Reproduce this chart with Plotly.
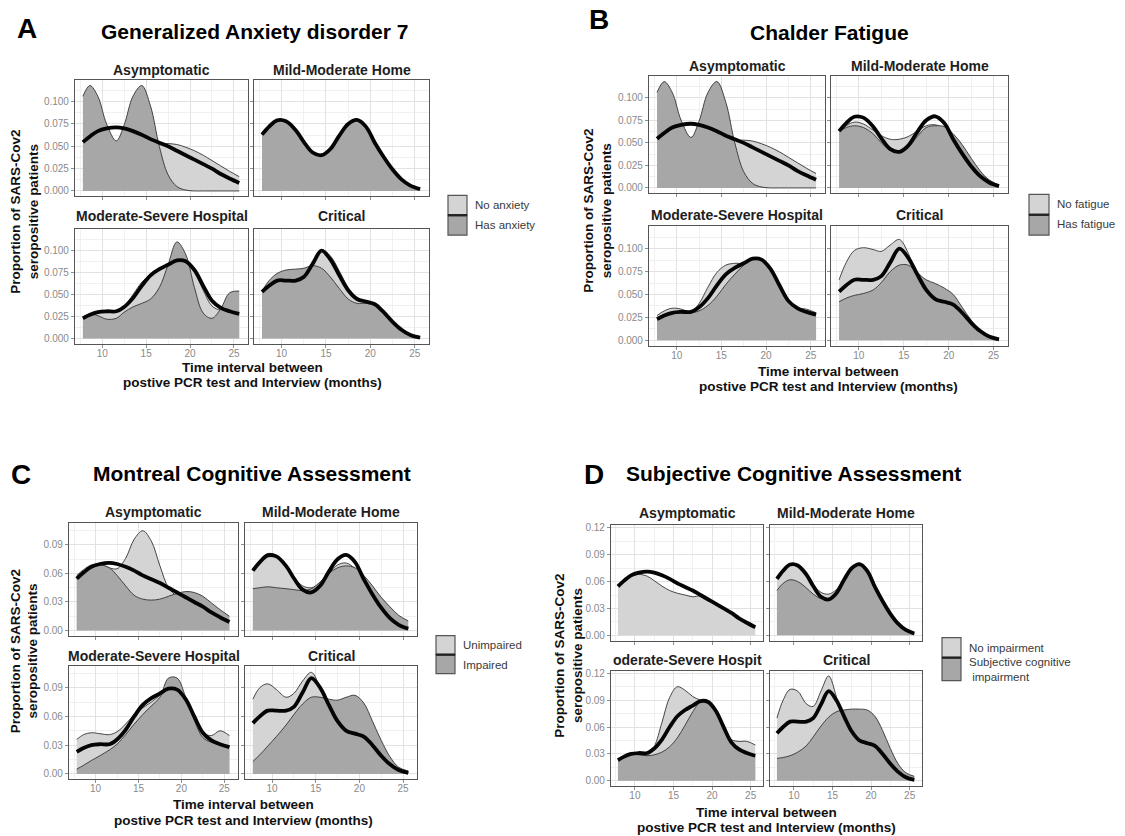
import plotly.graph_objects as go

W, H = 1125, 836
FONT = "Liberation Sans, Arial, sans-serif"
LIGHT_FILL = "#d4d4d4"
DARK_FILL = "#a7a7a7"

# ---- data -----------------------------------------------------------------
MONTHS = [7.8, 8.6, 9.5, 10.5, 11.6, 12.5, 13.5, 14.5, 15.5, 16.5,
          17.5, 18.5, 19.5, 20.5, 21.5, 22.5, 23.5, 24.5, 25.6]
SEVERITY = ["Asymptomatic", "Mild-Moderate Home", "Moderate-Severe Hospital", "Critical"]
X_TICKS = [10, 15, 20, 25]

# overall density of each severity group (thick black line)
ALL_ASYM = [0.0546, 0.061, 0.067, 0.070, 0.0712, 0.070, 0.067, 0.063, 0.058, 0.054,
            0.050, 0.045, 0.040, 0.035, 0.030, 0.025, 0.019, 0.014, 0.009]
ALL_MILD = [0.063, 0.072, 0.079, 0.078, 0.068, 0.055, 0.043, 0.040, 0.047, 0.062,
            0.075, 0.0795, 0.072, 0.054, 0.038, 0.024, 0.013, 0.006, 0.002]
ALL_MODSEV = [0.023, 0.027, 0.030, 0.031, 0.031, 0.036, 0.046, 0.060, 0.072, 0.079,
              0.084, 0.089, 0.088, 0.078, 0.060, 0.043, 0.035, 0.031, 0.028]
ALL_CRIT = [0.053, 0.060, 0.066, 0.066, 0.066, 0.070, 0.085, 0.100, 0.090, 0.072,
            0.055, 0.045, 0.042, 0.039, 0.030, 0.019, 0.010, 0.004, 0.001]

# A: Generalized Anxiety disorder 7
GAD_ASYM_NO = [0.045, 0.048, 0.050, 0.051, 0.052, 0.052, 0.052, 0.052, 0.053, 0.053,
               0.053, 0.052, 0.049, 0.045, 0.040, 0.034, 0.028, 0.022, 0.016]
GAD_ASYM_YES = [0.106, 0.118, 0.106, 0.075, 0.056, 0.074, 0.106, 0.118, 0.095, 0.050,
                0.018, 0.005, 0.001, 0.0, 0.0, 0.0, 0.0, 0.0, 0.0]
GAD_MILD_YES = [0.063, 0.072, 0.079, 0.078, 0.068, 0.055, 0.043, 0.040, 0.047, 0.062,
                0.075, 0.0795, 0.072, 0.054, 0.038, 0.024, 0.013, 0.006, 0.002]
GAD_MODSEV_NO = [0.025, 0.028, 0.030, 0.030, 0.031, 0.037, 0.050, 0.064, 0.073, 0.078,
                 0.083, 0.088, 0.087, 0.076, 0.055, 0.037, 0.032, 0.030, 0.027]
GAD_MODSEV_YES = [0.024, 0.028, 0.026, 0.022, 0.023, 0.030, 0.036, 0.040, 0.045, 0.058,
                  0.084, 0.110, 0.096, 0.058, 0.029, 0.023, 0.034, 0.052, 0.054]
GAD_CRIT_NO = [0.053, 0.060, 0.065, 0.065, 0.066, 0.071, 0.087, 0.101, 0.094, 0.077,
               0.058, 0.046, 0.042, 0.039, 0.030, 0.019, 0.010, 0.004, 0.001]
GAD_CRIT_YES = [0.054, 0.066, 0.074, 0.078, 0.079, 0.080, 0.083, 0.080, 0.070, 0.057,
                0.045, 0.040, 0.040, 0.038, 0.030, 0.019, 0.010, 0.004, 0.001]

# B: Chalder Fatigue
CFQ_ASYM_NO = [0.045, 0.048, 0.050, 0.051, 0.052, 0.052, 0.052, 0.052, 0.053, 0.053,
               0.053, 0.052, 0.049, 0.045, 0.040, 0.034, 0.028, 0.022, 0.016]
CFQ_ASYM_YES = [0.106, 0.118, 0.106, 0.075, 0.056, 0.074, 0.106, 0.118, 0.095, 0.050,
                0.018, 0.005, 0.001, 0.0, 0.0, 0.0, 0.0, 0.0, 0.0]
CFQ_MILD_NO = [0.063, 0.069, 0.073, 0.071, 0.064, 0.058, 0.054, 0.054, 0.057, 0.063,
               0.069, 0.070, 0.066, 0.056, 0.043, 0.030, 0.018, 0.009, 0.003]
CFQ_MILD_YES = [0.063, 0.067, 0.069, 0.067, 0.060, 0.050, 0.042, 0.040, 0.045, 0.057,
                0.067, 0.069, 0.068, 0.060, 0.048, 0.033, 0.019, 0.008, 0.002]
CFQ_MODSEV_NO = [0.027, 0.032, 0.035, 0.034, 0.031, 0.040, 0.058, 0.074, 0.082, 0.084,
                 0.084, 0.088, 0.086, 0.075, 0.057, 0.040, 0.035, 0.034, 0.030]
CFQ_MODSEV_YES = [0.022, 0.026, 0.029, 0.030, 0.030, 0.032, 0.038, 0.048, 0.061, 0.072,
                  0.082, 0.089, 0.089, 0.079, 0.061, 0.043, 0.034, 0.032, 0.029]
CFQ_CRIT_NO = [0.066, 0.085, 0.098, 0.101, 0.099, 0.097, 0.104, 0.110, 0.095, 0.068,
               0.048, 0.040, 0.036, 0.030, 0.022, 0.012, 0.005, 0.0015, 0.0]
CFQ_CRIT_YES = [0.042, 0.046, 0.049, 0.051, 0.055, 0.063, 0.075, 0.082, 0.082, 0.074,
                0.066, 0.062, 0.057, 0.050, 0.036, 0.022, 0.011, 0.005, 0.002]

# C: Montreal Cognitive Assessment
MOCA_ASYM_NO = [0.058, 0.064, 0.069, 0.070, 0.066, 0.065, 0.076, 0.096, 0.105, 0.094,
                0.068, 0.045, 0.036, 0.032, 0.028, 0.024, 0.019, 0.014, 0.010]
MOCA_ASYM_YES = [0.055, 0.061, 0.066, 0.069, 0.066, 0.058, 0.047, 0.037, 0.033, 0.032,
                 0.033, 0.036, 0.039, 0.041, 0.040, 0.036, 0.029, 0.022, 0.015]
MOCA_MILD_NO = [0.063, 0.074, 0.081, 0.079, 0.068, 0.056, 0.047, 0.045, 0.050, 0.060,
                0.069, 0.071, 0.065, 0.052, 0.037, 0.023, 0.013, 0.006, 0.002]
MOCA_MILD_YES = [0.044, 0.045, 0.046, 0.045, 0.044, 0.043, 0.042, 0.044, 0.051, 0.060,
                 0.066, 0.068, 0.066, 0.058, 0.047, 0.035, 0.025, 0.016, 0.010]
MOCA_MODSEV_NO = [0.036, 0.041, 0.043, 0.042, 0.041, 0.044, 0.052, 0.062, 0.069, 0.075,
                  0.082, 0.088, 0.086, 0.074, 0.057, 0.043, 0.040, 0.045, 0.040]
MOCA_MODSEV_YES = [0.005, 0.009, 0.014, 0.019, 0.025, 0.031, 0.041, 0.052, 0.062, 0.071,
                   0.080, 0.100, 0.100, 0.080, 0.056, 0.038, 0.033, 0.031, 0.029]
MOCA_CRIT_NO = [0.078, 0.090, 0.094, 0.088, 0.080, 0.084, 0.097, 0.106, 0.090, 0.068,
                0.052, 0.045, 0.043, 0.038, 0.028, 0.017, 0.008, 0.003, 0.001]
MOCA_CRIT_YES = [0.013, 0.020, 0.029, 0.039, 0.051, 0.062, 0.073, 0.080, 0.080, 0.078,
                 0.077, 0.080, 0.082, 0.074, 0.055, 0.035, 0.018, 0.007, 0.003]

# D: Subjective Cognitive Assessment
SCA_ASYM_NO = [0.056, 0.062, 0.066, 0.068, 0.066, 0.061, 0.055, 0.050, 0.047, 0.045,
               0.043, 0.044, 0.040, 0.035, 0.030, 0.025, 0.019, 0.014, 0.009]
SCA_MILD_NO = [0.063, 0.073, 0.079, 0.078, 0.068, 0.057, 0.048, 0.046, 0.051, 0.063,
               0.074, 0.078, 0.071, 0.054, 0.037, 0.023, 0.012, 0.006, 0.002]
SCA_MILD_YES = [0.050, 0.058, 0.062, 0.060, 0.053, 0.046, 0.041, 0.040, 0.047, 0.062,
                0.075, 0.0795, 0.072, 0.055, 0.038, 0.023, 0.013, 0.006, 0.002]
SCA_MODSEV_NO = [0.022, 0.028, 0.031, 0.030, 0.028, 0.038, 0.065, 0.093, 0.105, 0.101,
                 0.094, 0.090, 0.087, 0.076, 0.058, 0.046, 0.044, 0.044, 0.040]
SCA_MODSEV_YES = [0.022, 0.027, 0.030, 0.029, 0.028, 0.029, 0.032, 0.038, 0.048, 0.062,
                  0.077, 0.088, 0.087, 0.076, 0.058, 0.042, 0.034, 0.030, 0.027]
SCA_CRIT_NO = [0.070, 0.090, 0.102, 0.100, 0.086, 0.083, 0.100, 0.117, 0.094, 0.065,
               0.048, 0.043, 0.041, 0.037, 0.028, 0.017, 0.008, 0.003, 0.0]
SCA_CRIT_YES = [0.025, 0.026, 0.028, 0.032, 0.039, 0.049, 0.061, 0.071, 0.077, 0.079,
                0.080, 0.080, 0.079, 0.072, 0.056, 0.036, 0.019, 0.009, 0.005]

OVERALL = [ALL_ASYM, ALL_MILD, ALL_MODSEV, ALL_CRIT]

GAD_Y_TICKS = [0.0, 0.025, 0.05, 0.075, 0.1]
GAD_Y_LABELS = ["0.000", "0.025", "0.050", "0.075", "0.100"]
MOCA_Y_TICKS = [0.0, 0.03, 0.06, 0.09]
MOCA_Y_LABELS = ["0.00", "0.03", "0.06", "0.09"]
SCA_Y_TICKS = [0.0, 0.03, 0.06, 0.09, 0.12]
SCA_Y_LABELS = ["0.00", "0.03", "0.06", "0.09", "0.12"]

# ---- panel specifications (geometry in page pixels) -------------------------
PANELS = [
    dict(letter="A", title="Generalized Anxiety disorder 7",
         letter_xy=(27, 26), title_xy=(254, 29),
         cols=[(75, 248), (254, 429)], rows=[(77, 194), (227, 342)],
         strip_y=[67, 214], strip_labels=SEVERITY,
         yrange=[-0.006, 0.1245], yticks=GAD_Y_TICKS, ylabels=GAD_Y_LABELS,
         groups=[(GAD_ASYM_NO, GAD_ASYM_YES), (None, GAD_MILD_YES),
                 (GAD_MODSEV_NO, GAD_MODSEV_YES), (GAD_CRIT_NO, GAD_CRIT_YES)],
         ytitle_x=25, xtitle_y=(366, 381),
         legend_box=(448, 467, 193, 233), legend_labels=["No anxiety", "Has anxiety"],
         legend_label_y=[203, 223]),
    dict(letter="B", title="Chalder Fatigue",
         letter_xy=(599, 17), title_xy=(829, 30),
         cols=[(649, 825), (831, 1008)], rows=[(73, 191), (224, 344)],
         strip_y=[63, 213], strip_labels=SEVERITY,
         yrange=[-0.006, 0.1245], yticks=GAD_Y_TICKS, ylabels=GAD_Y_LABELS,
         groups=[(CFQ_ASYM_NO, CFQ_ASYM_YES), (CFQ_MILD_NO, CFQ_MILD_YES),
                 (CFQ_MODSEV_NO, CFQ_MODSEV_YES), (CFQ_CRIT_NO, CFQ_CRIT_YES)],
         ytitle_x=598, xtitle_y=(370, 385),
         legend_box=(1029, 1049, 192, 233), legend_labels=["No fatigue", "Has fatigue"],
         legend_label_y=[202, 222]),
    dict(letter="C", title="Montreal Cognitive Assessment",
         letter_xy=(21, 473), title_xy=(252, 472),
         cols=[(69, 238), (245, 417)], rows=[(522, 635), (665, 779)],
         strip_y=[511, 655], strip_labels=SEVERITY,
         yrange=[-0.0055, 0.113], yticks=MOCA_Y_TICKS, ylabels=MOCA_Y_LABELS,
         groups=[(MOCA_ASYM_NO, MOCA_ASYM_YES), (MOCA_MILD_NO, MOCA_MILD_YES),
                 (MOCA_MODSEV_NO, MOCA_MODSEV_YES), (MOCA_CRIT_NO, MOCA_CRIT_YES)],
         ytitle_x=24, xtitle_y=(804, 820),
         legend_box=(436, 455, 635, 673), legend_labels=["Unimpaired", "Impaired"],
         legend_label_y=[644, 664]),
    dict(letter="D", title="Subjective Cognitive Assessment",
         letter_xy=(594, 473), title_xy=(794, 472),
         cols=[(611, 763), (770, 922)], rows=[(524, 640), (670, 786)],
         strip_y=[512, 659],
         strip_labels=["Asymptomatic", "Mild-Moderate Home", "oderate-Severe Hospit", "Critical"],
         yrange=[-0.006, 0.123], yticks=SCA_Y_TICKS, ylabels=SCA_Y_LABELS,
         groups=[(SCA_ASYM_NO, None), (SCA_MILD_NO, SCA_MILD_YES),
                 (SCA_MODSEV_NO, SCA_MODSEV_YES), (SCA_CRIT_NO, SCA_CRIT_YES)],
         ytitle_x=569, xtitle_y=(812, 827),
         legend_box=(942, 961, 637, 680),
         legend_labels=["No impairment", "Subjective cognitive<br> impairment"],
         legend_label_y=[647, 669]),
]


def fx(px):
    return px / W


def fy(py):
    return 1 - py / H


fig = go.Figure()
layout = dict(
    width=W, height=H, margin=dict(l=0, r=0, t=0, b=0),
    paper_bgcolor="white", plot_bgcolor="white", showlegend=False,
    font=dict(family=FONT, color="#222"),
)
annotations = []
shapes = []

axis_common = dict(
    showline=True, mirror=True, linecolor="#555555", linewidth=1.1,
    showgrid=True, gridcolor="#e2e2e2", gridwidth=0.7,
    zeroline=False, ticks="outside", ticklen=3, tickcolor="#8f8f8f",
    tickfont=dict(size=10, color="#8a8a8a", family=FONT),
    fixedrange=True,
)

idx = 0
for p in PANELS:
    for f in range(4):
        idx += 1
        r, c = divmod(f, 2)
        xname = "x" if idx == 1 else f"x{idx}"
        yname = "y" if idx == 1 else f"y{idx}"
        xkey = "xaxis" if idx == 1 else f"xaxis{idx}"
        ykey = "yaxis" if idx == 1 else f"yaxis{idx}"
        x0, x1 = p["cols"][c]
        y0, y1 = p["rows"][r]
        layout[xkey] = dict(
            axis_common, domain=[fx(x0), fx(x1)], anchor=yname,
            range=[6.9, 26.6], tickvals=X_TICKS, ticklabelstandoff=-3,
            ticktext=[str(v) for v in X_TICKS], showticklabels=(r == 1),
            minor=dict(tickvals=[7.5, 12.5, 17.5, 22.5], showgrid=True,
                       gridcolor="#f0f0f0", gridwidth=0.6, ticks=""),
        )
        ytv = p["yticks"]
        step = ytv[1] - ytv[0]
        layout[ykey] = dict(
            axis_common, domain=[fy(y1), fy(y0)], anchor=xname,
            range=p["yrange"], tickvals=ytv, ticktext=p["ylabels"],
            showticklabels=(c == 0),
            minor=dict(tickvals=[v + step / 2 for v in ytv], showgrid=True,
                       gridcolor="#f0f0f0", gridwidth=0.6, ticks=""),
        )
        light, dark = p["groups"][f]
        for series, fill in ((light, LIGHT_FILL), (dark, DARK_FILL)):
            if series is None:
                continue
            fig.add_trace(go.Scatter(
                x=MONTHS, y=series, mode="lines", xaxis=xname, yaxis=yname,
                line=dict(color="#333333", width=0.9, shape="spline", smoothing=1.0),
                fill="tozeroy", fillcolor=fill, hoverinfo="skip",
            ))
        fig.add_trace(go.Scatter(
            x=MONTHS, y=OVERALL[f], mode="lines", xaxis=xname, yaxis=yname,
            line=dict(color="#050505", width=3.8, shape="spline", smoothing=1.0),
            hoverinfo="skip",
        ))
        # facet strip label
        annotations.append(dict(
            x=fx((x0 + x1) / 2), y=fy(p["strip_y"][r]), xref="paper", yref="paper",
            text=f"<b>{p['strip_labels'][f]}</b>", showarrow=False,
            xanchor="center", yanchor="middle",
            font=dict(size=14, color="#1e1e1e", family=FONT),
        ))

    # panel letter and title
    annotations.append(dict(
        x=fx(p["letter_xy"][0]), y=fy(p["letter_xy"][1]), xref="paper", yref="paper",
        text=f"<b>{p['letter']}</b>", showarrow=False, xanchor="center", yanchor="middle",
        font=dict(size=28, color="#000", family=FONT),
    ))
    annotations.append(dict(
        x=fx(p["title_xy"][0]), y=fy(p["title_xy"][1]), xref="paper", yref="paper",
        text=f"<b>{p['title']}</b>", showarrow=False, xanchor="center", yanchor="middle",
        font=dict(size=21, color="#000", family=FONT),
    ))
    # axis titles
    left, right = p["cols"][0][0], p["cols"][1][1]
    top, bottom = p["rows"][0][0], p["rows"][1][1]
    annotations.append(dict(
        x=fx(p["ytitle_x"]), y=fy((top + bottom) / 2), xref="paper", yref="paper",
        text="<b>Proportion of SARS-Cov2<br>seropositive patients</b>", showarrow=False,
        textangle=-90, xanchor="center", yanchor="middle",
        font=dict(size=13.5, color="#111", family=FONT),
    ))
    xc = fx((left + right) / 2)
    annotations.append(dict(
        x=xc, y=fy(p["xtitle_y"][0]), xref="paper", yref="paper",
        text="<b>Time interval between</b>", showarrow=False,
        xanchor="center", yanchor="middle", font=dict(size=13.5, color="#111", family=FONT),
    ))
    annotations.append(dict(
        x=xc, y=fy(p["xtitle_y"][1]), xref="paper", yref="paper",
        text="<b>postive PCR test and Interview (months)</b>", showarrow=False,
        xanchor="center", yanchor="middle", font=dict(size=13.5, color="#111", family=FONT),
    ))
    # legend keys
    lx0, lx1, ly0, ly1 = p["legend_box"]
    ymid = (ly0 + ly1) / 2 if p["letter"] != "D" else 657
    for (ka, kb), col in (((ly0, ymid), LIGHT_FILL), ((ymid, ly1), DARK_FILL)):
        shapes.append(dict(
            type="rect", xref="paper", yref="paper",
            x0=fx(lx0), x1=fx(lx1), y0=fy(kb), y1=fy(ka),
            fillcolor=col, line=dict(color="#555", width=1.2),
        ))
    shapes.append(dict(
        type="line", xref="paper", yref="paper",
        x0=fx(lx0), x1=fx(lx1), y0=fy(ymid), y1=fy(ymid),
        line=dict(color="#222", width=2.4),
    ))
    for lab, ly in zip(p["legend_labels"], p["legend_label_y"]):
        annotations.append(dict(
            x=fx(lx1 + 6), y=fy(ly), xref="paper", yref="paper", text=lab,
            showarrow=False, xanchor="left", yanchor="middle", align="left",
            font=dict(size=11.5, color="#3a3a3a", family=FONT),
        ))

layout["annotations"] = annotations
layout["shapes"] = shapes
fig.update_layout(**layout)
fig.write_html("out.html")
